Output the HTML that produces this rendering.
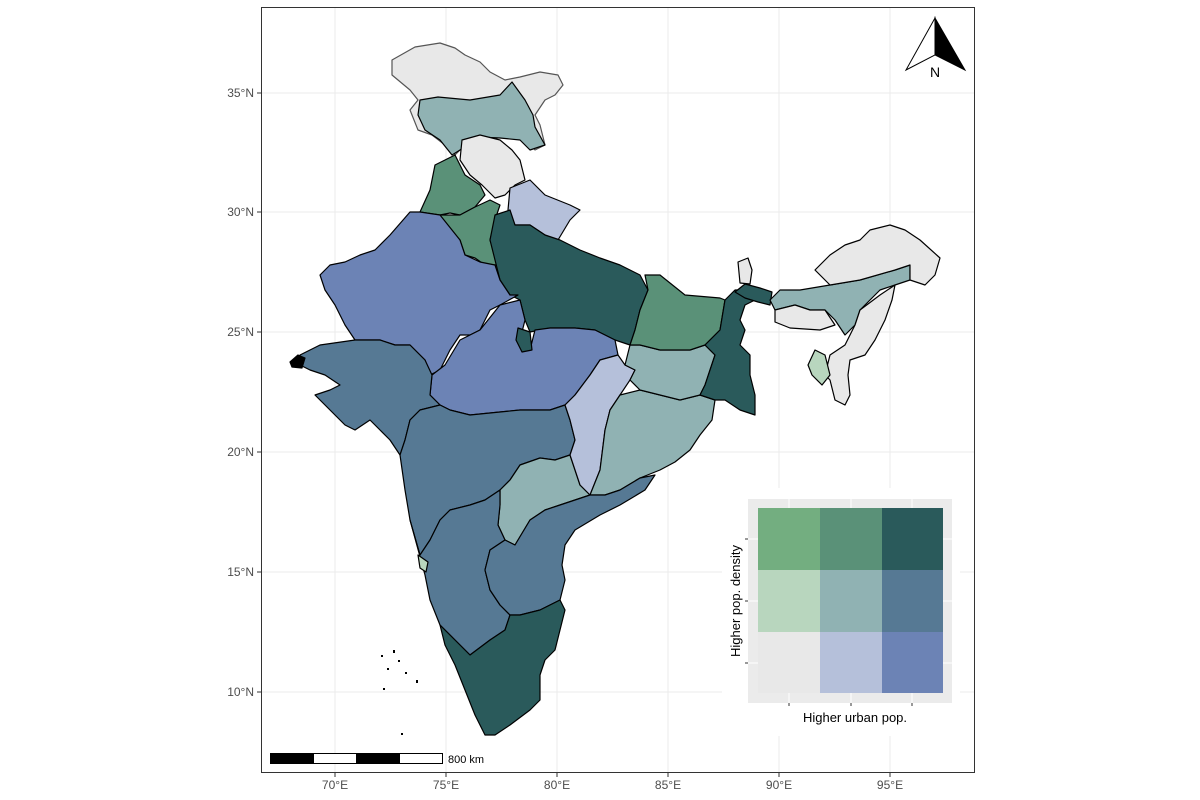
<!DOCTYPE html>
<html><head><meta charset="utf-8"><style>
body{margin:0;background:#fff}
svg{display:block;font-family:"Liberation Sans",sans-serif}
</style></head><body>
<svg width="1200" height="800" viewBox="0 0 1200 800">
<rect x="0" y="0" width="1200" height="800" fill="#fff"/>
<g stroke="#ebebeb" stroke-width="1">
<line x1="335" y1="7" x2="335" y2="772"/><line x1="446" y1="7" x2="446" y2="772"/><line x1="557" y1="7" x2="557" y2="772"/><line x1="668" y1="7" x2="668" y2="772"/><line x1="779" y1="7" x2="779" y2="772"/><line x1="890" y1="7" x2="890" y2="772"/>
<line x1="261" y1="93" x2="975" y2="93"/><line x1="261" y1="212" x2="975" y2="212"/><line x1="261" y1="332" x2="975" y2="332"/><line x1="261" y1="452" x2="975" y2="452"/><line x1="261" y1="572" x2="975" y2="572"/><line x1="261" y1="692" x2="975" y2="692"/>
</g>
<g stroke="#000" stroke-width="1.2" stroke-linejoin="round">
<polygon fill="#e8e8e8" stroke="#555" points="392,60 415,47 440,43 455,48 465,55 480,62 490,72 505,80 520,77 540,72 558,75 563,85 555,95 545,100 535,115 540,125 545,145 535,150 525,140 510,135 495,135 478,137 460,150 455,155 445,145 432,135 418,130 410,110 418,100 410,90 392,75"/>
<polygon fill="#90b2b3" points="420,100 438,97 470,100 500,95 512,82 525,100 533,115 535,127 545,145 530,150 520,140 500,138 478,137 460,150 452,155 440,140 425,130 418,115"/>
<polygon fill="#e8e8e8" points="462,140 480,135 500,140 512,150 520,160 525,180 515,185 505,195 495,198 482,185 470,175 460,160"/>
<polygon fill="#b5c0da" points="510,188 530,180 545,195 570,205 580,210 570,220 558,240 545,235 530,225 515,225 508,210"/>
<polygon fill="#5a9178" points="435,165 455,155 465,175 480,185 485,195 475,207 460,215 450,213 440,215 420,212 430,190"/>
<polygon fill="#5a9178" points="440,215 460,215 475,207 490,200 500,205 495,220 490,240 495,255 498,265 485,265 475,258 465,255 460,240 445,225"/>
<polygon fill="#2a5a5b" points="495,215 510,210 515,225 530,225 545,235 560,240 580,250 600,258 620,265 640,275 648,290 640,310 635,330 630,345 615,340 595,330 575,328 550,328 530,332 525,320 520,300 510,295 500,280 495,260 490,240"/>
<polygon fill="#6c83b5" points="410,212 420,212 440,215 460,240 465,255 480,262 495,265 500,280 510,295 518,295 500,305 490,310 480,330 470,335 460,335 450,350 440,370 430,375 425,360 410,345 395,345 380,340 355,340 345,325 335,305 325,290 320,275 330,265 345,262 360,255 375,250 390,235"/>
<polygon fill="#6c83b5" points="480,330 500,305 520,300 525,320 520,340 530,350 535,330 550,328 575,328 595,330 615,340 618,355 600,360 590,375 575,395 565,405 550,410 520,410 500,412 470,415 450,410 440,405 430,395 432,375 445,365 460,340 470,335"/>
<polygon fill="#2a5a5b" points="518,328 530,332 532,350 522,352 516,340"/>
<polygon fill="#567994" points="300,355 320,345 355,340 380,340 395,345 410,345 425,360 432,375 430,395 440,405 420,410 410,420 405,440 400,455 390,440 380,430 370,420 355,430 345,425 330,410 315,395 330,390 340,385 325,375 310,370 300,365"/>
<polygon fill="#000" points="290,362 298,355 305,358 302,368 292,367"/>
<polygon fill="#567994" points="400,455 405,440 410,420 420,410 440,405 450,410 470,415 500,412 520,410 550,410 565,405 570,420 575,440 570,455 555,460 540,458 520,465 510,480 500,490 485,500 470,505 450,510 440,520 430,540 420,555 410,520 405,490"/>
<polygon fill="#90b2b3" points="500,490 510,480 520,465 540,458 555,460 570,455 575,470 580,485 590,495 575,500 560,505 545,510 530,520 515,545 505,540 498,525 500,505"/>
<polygon fill="#b5c0da" points="565,405 575,395 590,375 600,360 618,355 625,365 635,370 630,380 620,395 610,410 605,430 600,470 590,495 580,485 575,470 570,455 575,440 570,420"/>
<polygon fill="#90b2b3" points="605,430 610,410 620,395 640,390 660,395 680,400 700,395 715,400 712,420 700,435 690,450 675,462 660,470 640,478 620,490 605,495 590,495 600,470"/>
<polygon fill="#90b2b3" points="625,365 630,345 640,345 660,350 690,350 705,345 715,355 710,370 705,385 700,395 680,400 660,395 640,390 630,380 635,370"/>
<polygon fill="#5a9178" points="630,345 635,330 640,310 648,290 645,275 660,275 685,295 720,298 725,300 720,330 705,345 690,350 660,350 640,345"/>
<polygon fill="#2a5a5b" points="705,345 720,330 725,300 735,290 745,290 755,300 745,305 740,320 745,330 740,345 750,355 750,375 755,395 755,415 740,410 725,400 715,400 700,395 705,385 710,370 715,355"/>
<polygon fill="#2a5a5b" points="735,292 745,284 760,288 772,292 770,305 758,302 745,298"/>
<polygon fill="#e8e8e8" points="738,262 748,258 752,270 750,284 740,283"/>
<polygon fill="#90b2b3" points="770,300 780,290 800,290 830,285 860,280 895,270 910,265 910,280 895,285 880,290 870,300 860,310 855,325 845,335 835,320 825,310 810,310 795,305 775,310"/>
<polygon fill="#e8e8e8" points="815,270 830,255 845,245 860,240 870,230 890,225 905,230 920,240 940,258 935,275 925,285 910,280 910,265 895,270 860,280 830,285"/>
<polygon fill="#e8e8e8" points="775,310 795,305 810,310 825,310 835,325 820,330 790,328 775,322"/>
<polygon fill="#e8e8e8" points="860,310 880,295 895,285 892,300 885,320 875,340 865,355 850,360 848,375 850,395 845,405 835,400 830,380 825,375 830,355 845,345 855,325"/>
<polygon fill="#b8d6be" points="815,350 825,355 830,375 822,385 812,375 808,365"/>
<polygon fill="#567994" points="410,520 420,555 430,540 440,520 450,510 470,505 485,500 500,490 500,505 498,525 505,540 490,550 485,570 490,590 500,605 510,615 505,630 490,640 470,655 455,640 440,625 430,600 425,575"/>
<polygon fill="#b8d6be" points="418,555 428,562 426,572 420,568"/>
<polygon fill="#567994" points="515,545 530,520 545,510 560,505 575,500 590,495 605,495 620,490 640,478 655,475 645,490 620,505 600,515 575,530 565,545 562,565 565,580 560,600 540,610 520,615 510,615 500,605 490,590 485,570 490,550 505,540"/>
<polygon fill="#2a5a5b" points="440,625 455,640 470,655 490,640 505,630 510,615 520,615 540,610 560,600 565,610 560,630 555,650 545,660 540,675 540,700 530,710 510,725 495,735 485,735 475,715 465,690 455,665 445,645"/>
</g>
<g fill="#000">
<rect x="381" y="655" width="2" height="2"/><rect x="393" y="650" width="2" height="3"/><rect x="398" y="660" width="2" height="2"/><rect x="387" y="668" width="2" height="2"/><rect x="405" y="672" width="2" height="2"/><rect x="416" y="680" width="2" height="3"/><rect x="383" y="688" width="2" height="2"/><rect x="401" y="733" width="2" height="2"/>
</g>
<rect x="261.5" y="7.5" width="713" height="765" fill="none" stroke="#333" stroke-width="1"/>
<g font-size="12" fill="#4d4d4d">
<g text-anchor="end"><text x="254" y="97">35°N</text><text x="254" y="216">30°N</text><text x="254" y="336">25°N</text><text x="254" y="456">20°N</text><text x="254" y="576">15°N</text><text x="254" y="696">10°N</text></g>
<g text-anchor="middle"><text x="335" y="789">70°E</text><text x="446" y="789">75°E</text><text x="557" y="789">80°E</text><text x="668" y="789">85°E</text><text x="779" y="789">90°E</text><text x="890" y="789">95°E</text></g>
</g>
<g stroke="#333"><line x1="257" y1="93" x2="261" y2="93"/><line x1="257" y1="212" x2="261" y2="212"/><line x1="257" y1="332" x2="261" y2="332"/><line x1="257" y1="452" x2="261" y2="452"/><line x1="257" y1="572" x2="261" y2="572"/><line x1="257" y1="692" x2="261" y2="692"/>
<line x1="335" y1="773" x2="335" y2="777"/><line x1="446" y1="773" x2="446" y2="777"/><line x1="557" y1="773" x2="557" y2="777"/><line x1="668" y1="773" x2="668" y2="777"/><line x1="779" y1="773" x2="779" y2="777"/><line x1="890" y1="773" x2="890" y2="777"/></g>
<polygon points="935,18 906,70 935,55" fill="#fff" stroke="#000"/>
<polygon points="935,18 965,70 935,55" fill="#000" stroke="#000"/>
<text x="935" y="77" font-size="14" text-anchor="middle">N</text>
<g stroke="#000" stroke-width="1">
<rect x="270.5" y="753.5" width="43" height="10" fill="#000"/><rect x="313.5" y="753.5" width="43" height="10" fill="#fff"/><rect x="356.5" y="753.5" width="43" height="10" fill="#000"/><rect x="399.5" y="753.5" width="43" height="10" fill="#fff"/>
</g>
<text x="448" y="763" font-size="11">800 km</text>
<rect x="722" y="488" width="238" height="248" fill="#fff"/>
<rect x="748" y="499" width="204" height="204" fill="#ebebeb"/>
<g stroke="#fff" stroke-width="1"><line x1="748" y1="539" x2="952" y2="539"/><line x1="748" y1="601" x2="952" y2="601"/><line x1="748" y1="663" x2="952" y2="663"/><line x1="789" y1="499" x2="789" y2="703"/><line x1="851" y1="499" x2="851" y2="703"/><line x1="912" y1="499" x2="912" y2="703"/></g>
<rect x="758" y="508" width="62" height="62" fill="#73ae80"/><rect x="820" y="508" width="62" height="62" fill="#5a9178"/><rect x="882" y="508" width="61" height="62" fill="#2a5a5b"/>
<rect x="758" y="570" width="62" height="62" fill="#b8d6be"/><rect x="820" y="570" width="62" height="62" fill="#90b2b3"/><rect x="882" y="570" width="61" height="62" fill="#567994"/>
<rect x="758" y="632" width="62" height="61" fill="#e8e8e8"/><rect x="820" y="632" width="62" height="61" fill="#b5c0da"/><rect x="882" y="632" width="61" height="61" fill="#6c83b5"/>
<g stroke="#333"><line x1="745" y1="539" x2="748" y2="539"/><line x1="745" y1="601" x2="748" y2="601"/><line x1="745" y1="663" x2="748" y2="663"/><line x1="789" y1="703" x2="789" y2="706"/><line x1="851" y1="703" x2="851" y2="706"/><line x1="912" y1="703" x2="912" y2="706"/></g>
<text x="855" y="722" font-size="13" text-anchor="middle">Higher urban pop.</text>
<text transform="translate(740,601) rotate(-90)" font-size="13" text-anchor="middle">Higher pop. density</text>
</svg>
</body></html>
